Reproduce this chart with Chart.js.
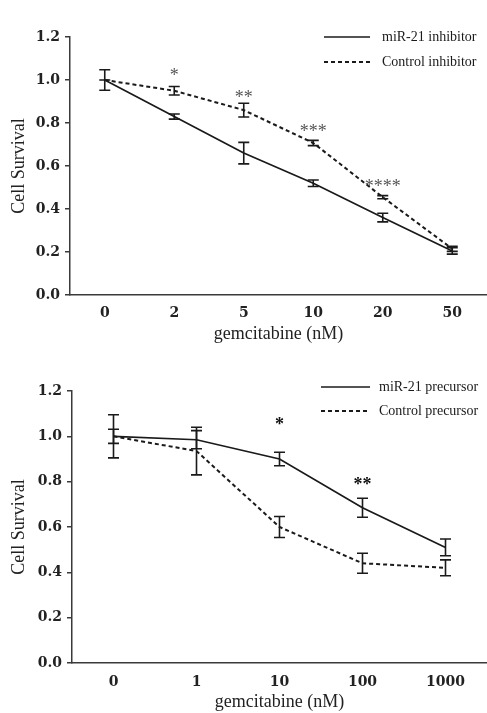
<!DOCTYPE html>
<html><head><meta charset="utf-8">
<script src="https://cdn.jsdelivr.net/npm/chart.js@4"></script>
<style>html,body{margin:0;padding:0;background:#fff;width:487px;height:713px;overflow:hidden;} canvas{position:absolute;left:0;}</style>
</head><body>
<canvas id="c1" width="487" height="345" style="top:0"></canvas>
<canvas id="c2" width="487" height="363" style="top:350px"></canvas>
<script>
// ---- Top chart data ----
const topCategories = ['0', '2', '5', '10', '20', '50'];
const topInhibitor = [1.00, 0.83, 0.66, 0.52, 0.36, 0.205];
const topInhibitorErr = [0.048, 0.012, 0.05, 0.015, 0.02, 0.015];
const topControl = [1.00, 0.95, 0.86, 0.707, 0.455, 0.215];
const topControlErr = [0.0, 0.02, 0.032, 0.012, 0.007, 0.012];
const topStars = ['', '*', '**', '***', '****', ''];
const topStarY = [null, 1.03, 0.93, 0.77, 0.515, null];

// ---- Bottom chart data ----
const botCategories = ['0', '1', '10', '100', '1000'];
const botPrecursor = [1.00, 0.985, 0.90, 0.685, 0.51];
const botPrecursorErr = [0.031, 0.04, 0.03, 0.042, 0.037];
const botControl = [1.00, 0.935, 0.60, 0.44, 0.42];
const botControlErr = [0.095, 0.105, 0.046, 0.044, 0.035];
const botStars = ['', '', '*', '**', ''];
const botStarY = [null, null, 1.06, 0.795, null];

const yMin = 0, yMax = 1.2, yStep = 0.2;

const INK = '#1a1a1a';
const AXIS = '#3a3a3a';
const SERIF = "'Liberation Serif', 'Times New Roman', serif";
const TICKFONT = "'DejaVu Serif', serif";

const errorBarPlugin = {
  id: 'errorBars',
  afterDatasetsDraw(chart) {
    const ctx = chart.ctx, y = chart.scales.y;
    chart.data.datasets.forEach((ds, di) => {
      const meta = chart.getDatasetMeta(di);
      (ds.errors || []).forEach((e, i) => {
        const pt = meta.data[i];
        if (!pt || e == null) return;
        const v = ds.data[i];
        const yt = y.getPixelForValue(v + e), yb = y.getPixelForValue(v - e);
        const x = pt.x, cap = 5.5;
        ctx.save();
        ctx.strokeStyle = INK; ctx.lineWidth = 1.6; ctx.setLineDash([]);
        ctx.beginPath();
        ctx.moveTo(x, yt); ctx.lineTo(x, yb);
        ctx.moveTo(x - cap, yt); ctx.lineTo(x + cap, yt);
        ctx.moveTo(x - cap, yb); ctx.lineTo(x + cap, yb);
        ctx.stroke();
        ctx.restore();
      });
    });
  }
};

const starsPlugin = {
  id: 'stars',
  afterDraw(chart, args, opts) {
    const ctx = chart.ctx, x = chart.scales.x, y = chart.scales.y;
    ctx.save();
    ctx.font = opts.font; ctx.fillStyle = opts.color;
    ctx.textAlign = 'center'; ctx.textBaseline = 'middle';
    opts.labels.forEach((s, i) => {
      if (!s || opts.values[i] == null) return;
      ctx.fillText(s, x.getPixelForValue(i), y.getPixelForValue(opts.values[i]) + opts.dy);
    });
    ctx.restore();
  }
};

const legendPlugin = {
  id: 'customLegend',
  afterDraw(chart, args, opts) {
    const ctx = chart.ctx;
    ctx.save();
    chart.data.datasets.forEach((ds, i) => {
      const yy = opts.rows[i];
      ctx.strokeStyle = ds.borderColor; ctx.lineWidth = ds.borderWidth;
      ctx.setLineDash(ds.borderDash || []);
      ctx.beginPath(); ctx.moveTo(opts.x0, yy); ctx.lineTo(opts.x1, yy); ctx.stroke();
      ctx.setLineDash([]);
      ctx.font = opts.font; ctx.fillStyle = INK;
      ctx.textAlign = 'left'; ctx.textBaseline = 'middle';
      ctx.fillText(ds.label, opts.tx, yy);
    });
    ctx.restore();
  }
};

function makeChart(id, cats, s1, e1, l1, s2, e2, l2, stars, starY, cfg) {
  return new Chart(document.getElementById(id), {
    type: 'line',
    data: {
      labels: cats,
      datasets: [
        { label: l1, data: s1, errors: e1, borderColor: INK, borderWidth: 1.7, borderDash: [], pointRadius: 0, tension: 0, fill: false },
        { label: l2, data: s2, errors: e2, borderColor: INK, borderWidth: 2, borderDash: [4, 3], pointRadius: 0, tension: 0, fill: false }
      ]
    },
    options: {
      responsive: false, animation: false, devicePixelRatio: 1,
      layout: { padding: { top: cfg.padTop, left: 0, right: 0, bottom: 0 } },
      plugins: {
        legend: { display: false }, tooltip: { enabled: false },
        stars: { labels: stars, values: starY, font: cfg.starFont, color: cfg.starColor, dy: cfg.starDy },
        customLegend: { x0: cfg.legX0, x1: cfg.legX1, tx: cfg.legTx, rows: cfg.legRows, font: '14px ' + SERIF }
      },
      scales: {
        x: {
          type: 'category', offset: true,
          grid: { display: true, drawOnChartArea: false, drawTicks: false },
          border: { display: true, color: AXIS, width: 1.5 },
          ticks: { font: { family: TICKFONT, size: 14, weight: 'bold' }, color: '#222', padding: cfg.xTickPad, maxRotation: 0, autoSkip: false },
          title: { display: true, text: 'gemcitabine (nM)', font: { family: SERIF, size: 18 }, color: '#222', padding: { top: 0, bottom: 0 } },
          afterFit: s => { s.height = cfg.xHeight; }
        },
        y: {
          min: yMin, max: yMax,
          grid: { display: true, drawOnChartArea: false, drawTicks: true, tickLength: 5, color: AXIS, lineWidth: 1.5 },
          border: { display: true, color: AXIS, width: 1.5 },
          ticks: { stepSize: yStep, callback: v => Number(v).toFixed(1), font: { family: TICKFONT, size: 14, weight: 'bold' }, color: '#222', padding: 5 },
          title: { display: true, text: 'Cell Survival', font: { family: SERIF, size: 18 }, color: '#222', padding: { top: 8, bottom: 0 } },
          afterFit: s => { s.width = cfg.yWidth; }
        }
      }
    },
    plugins: [errorBarPlugin, starsPlugin, legendPlugin]
  });
}

makeChart('c1', topCategories, topInhibitor, topInhibitorErr, 'miR-21 inhibitor', topControl, topControlErr, 'Control inhibitor',
  topStars, topStarY,
  { padTop: 37, xHeight: 50, yWidth: 70, xTickPad: 10, starFont: '18px ' + SERIF, starColor: '#555', starDy: 3,
    legX0: 324, legX1: 370, legTx: 382, legRows: [37, 62] });

makeChart('c2', botCategories, botPrecursor, botPrecursorErr, 'miR-21 precursor', botControl, botControlErr, 'Control precursor',
  botStars, botStarY,
  { padTop: 41, xHeight: 50, yWidth: 72, xTickPad: 11, starFont: 'bold 18px ' + SERIF, starColor: '#111', starDy: 3,
    legX0: 321, legX1: 370, legTx: 379, legRows: [37, 61] });
</script>
</body></html>
